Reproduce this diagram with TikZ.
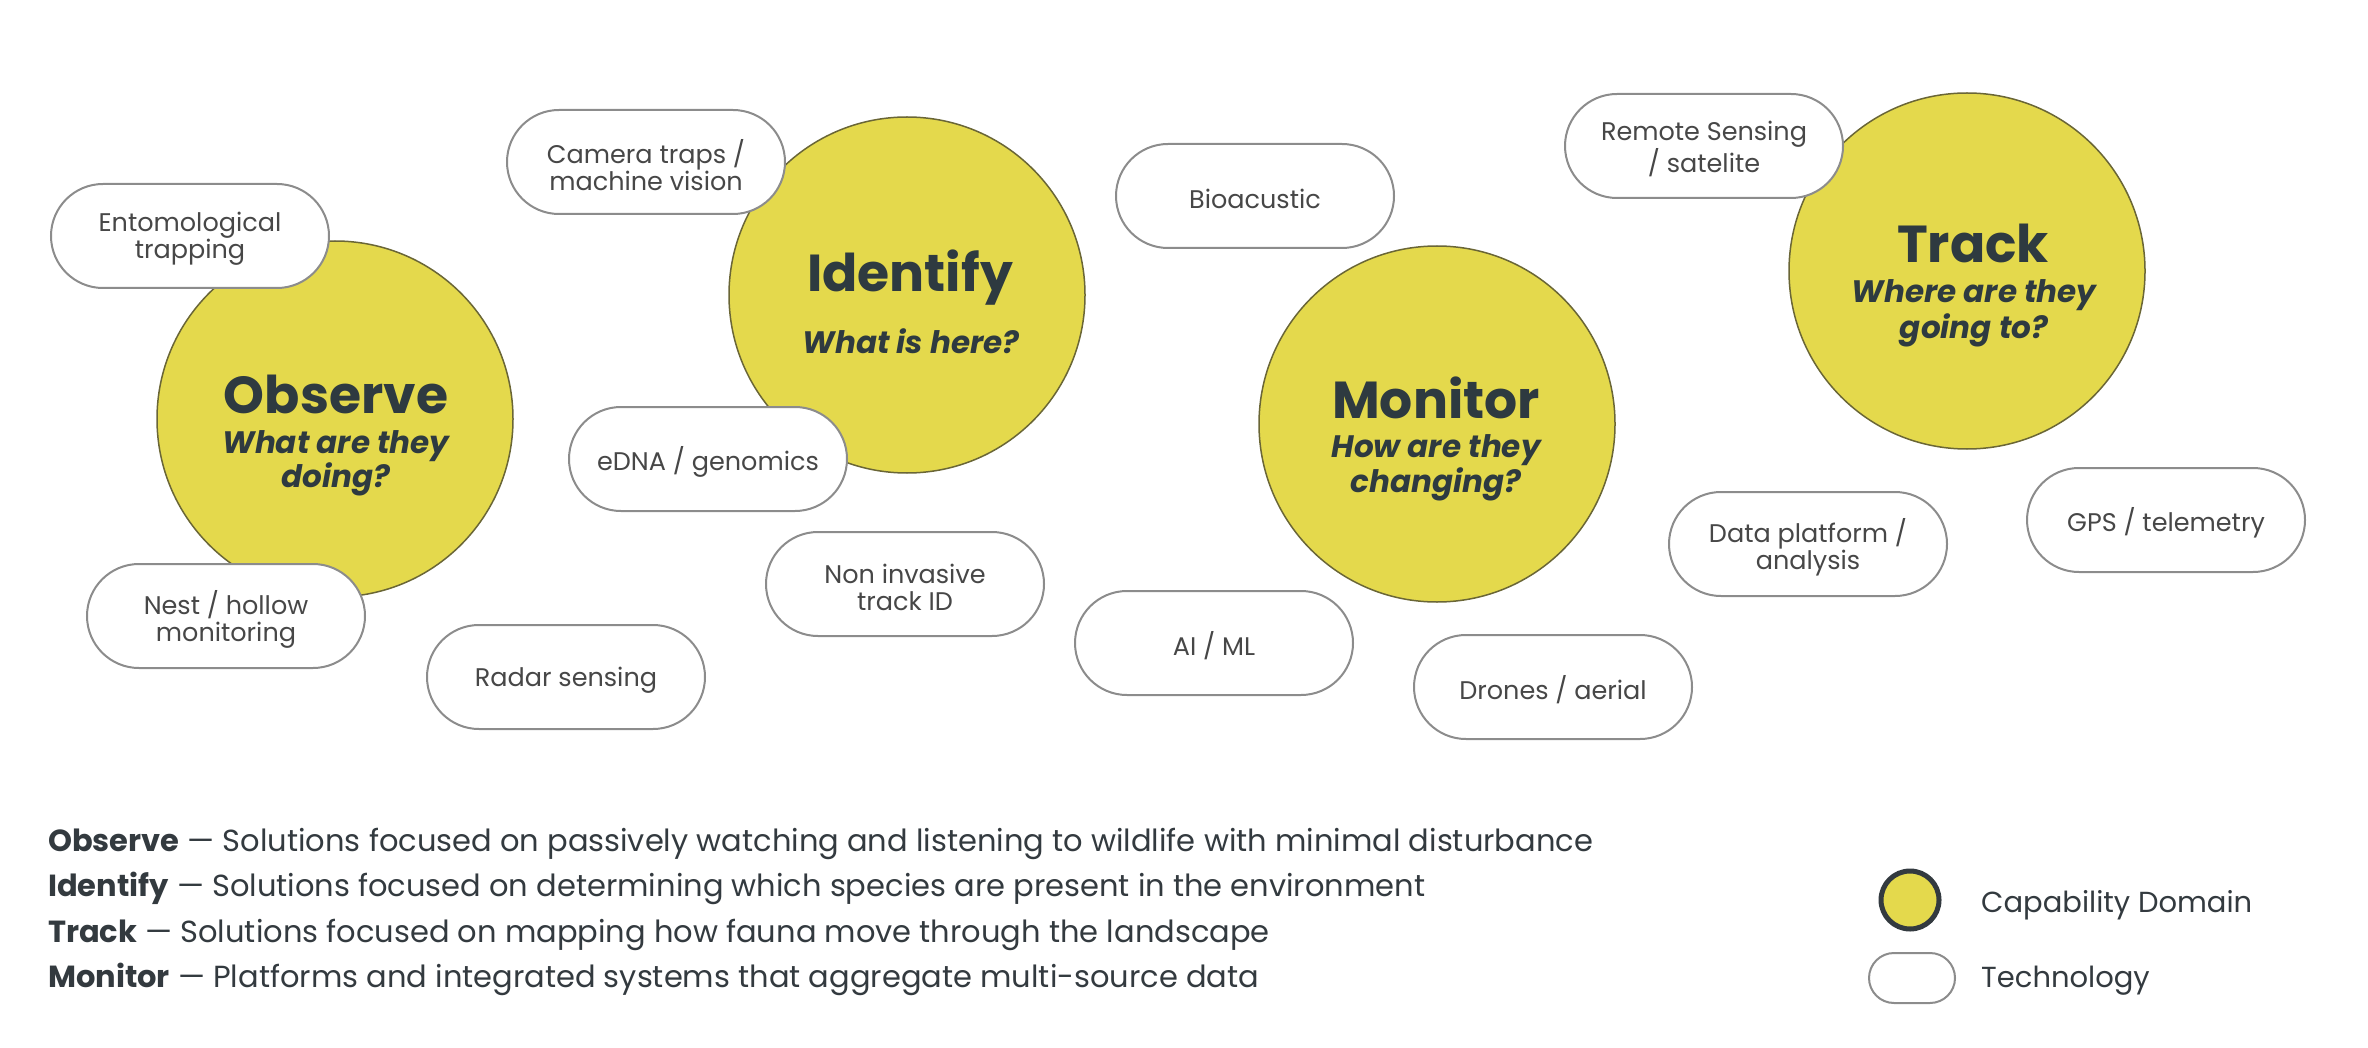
\documentclass[tikz,border=0pt]{standalone}
\usepackage{fontspec}
\setmainfont{Poppins}
\definecolor{capy}{HTML}{E4D94C}
\definecolor{capyedge}{HTML}{6A6636}
\definecolor{ink}{HTML}{2E3A40}
\definecolor{pillline}{HTML}{8C8C8C}
\definecolor{pilltext}{HTML}{474747}
\definecolor{legtext}{HTML}{333A3F}
\tikzset{
  capdomain/.style={circle, fill=capy, draw=capyedge, line width=1.5pt, minimum size=356pt, inner sep=0pt},
  dtitle/.style={anchor=base, text=ink, font=\fontsize{52}{52}\selectfont\bfseries, inner sep=0pt},
  dsub/.style={anchor=base, text=ink, font=\fontsize{31}{33}\selectfont\bfseries\itshape, inner sep=0pt},
  techpill/.style={rectangle, rounded corners=52pt, fill=white, draw=pillline, line width=2pt,
    minimum width=278pt, minimum height=104pt, inner sep=0pt, align=center, text=pilltext,
    font=\fontsize{25.5}{27.5}\selectfont},
  pilltxt/.style={anchor=center, text=pilltext, align=center, inner sep=0pt,
    font=\fontsize{25.5}{27}\selectfont, yshift=-3pt},
  legline/.style={anchor=base west, text=legtext, font=\fontsize{30.5}{32}\selectfont, inner sep=0pt},
}
\begin{document}
\begin{tikzpicture}[x=1pt,y=-1pt]
\useasboundingbox (0,0) rectangle (2368,1048);
% capability domains
\node[capdomain] (obs) at (335,419) {};
\node[capdomain] (idn) at (907,295) {};
\node[capdomain] (mon) at (1437,424) {};
\node[capdomain] (trk) at (1967,271) {};
\node[dtitle] (obsT) at (336,413) {Observe};
\node[dsub] (obsQ1) at (336,453) {What are they};
\node[dsub] (obsQ2) at (336,487) {doing?};
\node[dtitle] (idnT) at (910,292) {Identify};
\node[dsub] (idnQ) at (911,353) {What is here?};
\node[dtitle] (monT) at (1436,418) {Monitor};
\node[dsub] (monQ1) at (1436,457) {How are they};
\node[dsub] (monQ2) at (1436,492) {changing?};
\node[dtitle] (trkT) at (1973,263) {Track};
\node[dsub] (trkQ1) at (1974,303) {Where are they};
\node[dsub] (trkQ2) at (1974,338) {going to?};
% technologies
\node[techpill] (ento) at (190,236) {};
\node[techpill] (cam) at (646,162) {};
\node[techpill] (bio) at (1255,196) {};
\node[techpill] (rem) at (1704,146) {};
\node[techpill] (edna) at (708,459) {};
\node[techpill] (noninv) at (905,584) {};
\node[techpill] (nest) at (226,616) {};
\node[techpill] (radar) at (566,677) {};
\node[techpill] (aiml) at (1214,643) {};
\node[techpill] (drone) at (1553,687) {};
\node[techpill] (data) at (1808,544) {};
\node[techpill] (gps) at (2166,520) {};
\node[pilltxt] (entoL) at (ento.center) {Entomological\\trapping};
\node[pilltxt] (camL) at (cam.center) {Camera traps /\\machine vision};
\node[pilltxt] (bioL) at (bio.center) {Bioacustic};
\node[pilltxt] (remL) at (rem.center) {Remote Sensing\\/ satelite};
\node[pilltxt] (ednaL) at (edna.center) {eDNA / genomics};
\node[pilltxt] (noninvL) at (noninv.center) {Non invasive\\track ID};
\node[pilltxt] (nestL) at (nest.center) {Nest / hollow\\monitoring};
\node[pilltxt] (radarL) at (radar.center) {Radar sensing};
\node[pilltxt] (aimlL) at (aiml.center) {AI / ML};
\node[pilltxt] (droneL) at (drone.center) {Drones / aerial};
\node[pilltxt] (dataL) at (data.center) {Data platform /\\analysis};
\node[pilltxt] (gpsL) at (gps.center) {GPS / telemetry};
% description lines
\node[legline] (d1) at (48,851) {\textbf{Observe} — Solutions focused on passively watching and listening to wildlife with minimal disturbance};
\node[legline] (d2) at (48,896) {\textbf{Identify} — Solutions focused on determining which species are present in the environment};
\node[legline] (d3) at (48,942) {\textbf{Track} — Solutions focused on mapping how fauna move through the landscape};
\node[legline] (d4) at (48,987) {\textbf{Monitor} — Platforms and integrated systems that aggregate multi-source data};
% key
\node[circle, fill=capy, draw=legtext, line width=5pt, minimum size=58pt, inner sep=0pt] (keyC) at (1910,900) {};
\node[rectangle, rounded corners=25pt, fill=white, draw=pillline, line width=2pt, minimum width=86pt, minimum height=50pt, inner sep=0pt] (keyP) at (1912,978) {};
\node[anchor=base west, text=legtext, font=\fontsize{29}{30}\selectfont, inner sep=0pt] (keyCT) at (1981,912) {Capability Domain};
\node[anchor=base west, text=legtext, font=\fontsize{29}{30}\selectfont, inner sep=0pt] (keyPT) at (1981,987) {Technology};
\end{tikzpicture}
\end{document}
